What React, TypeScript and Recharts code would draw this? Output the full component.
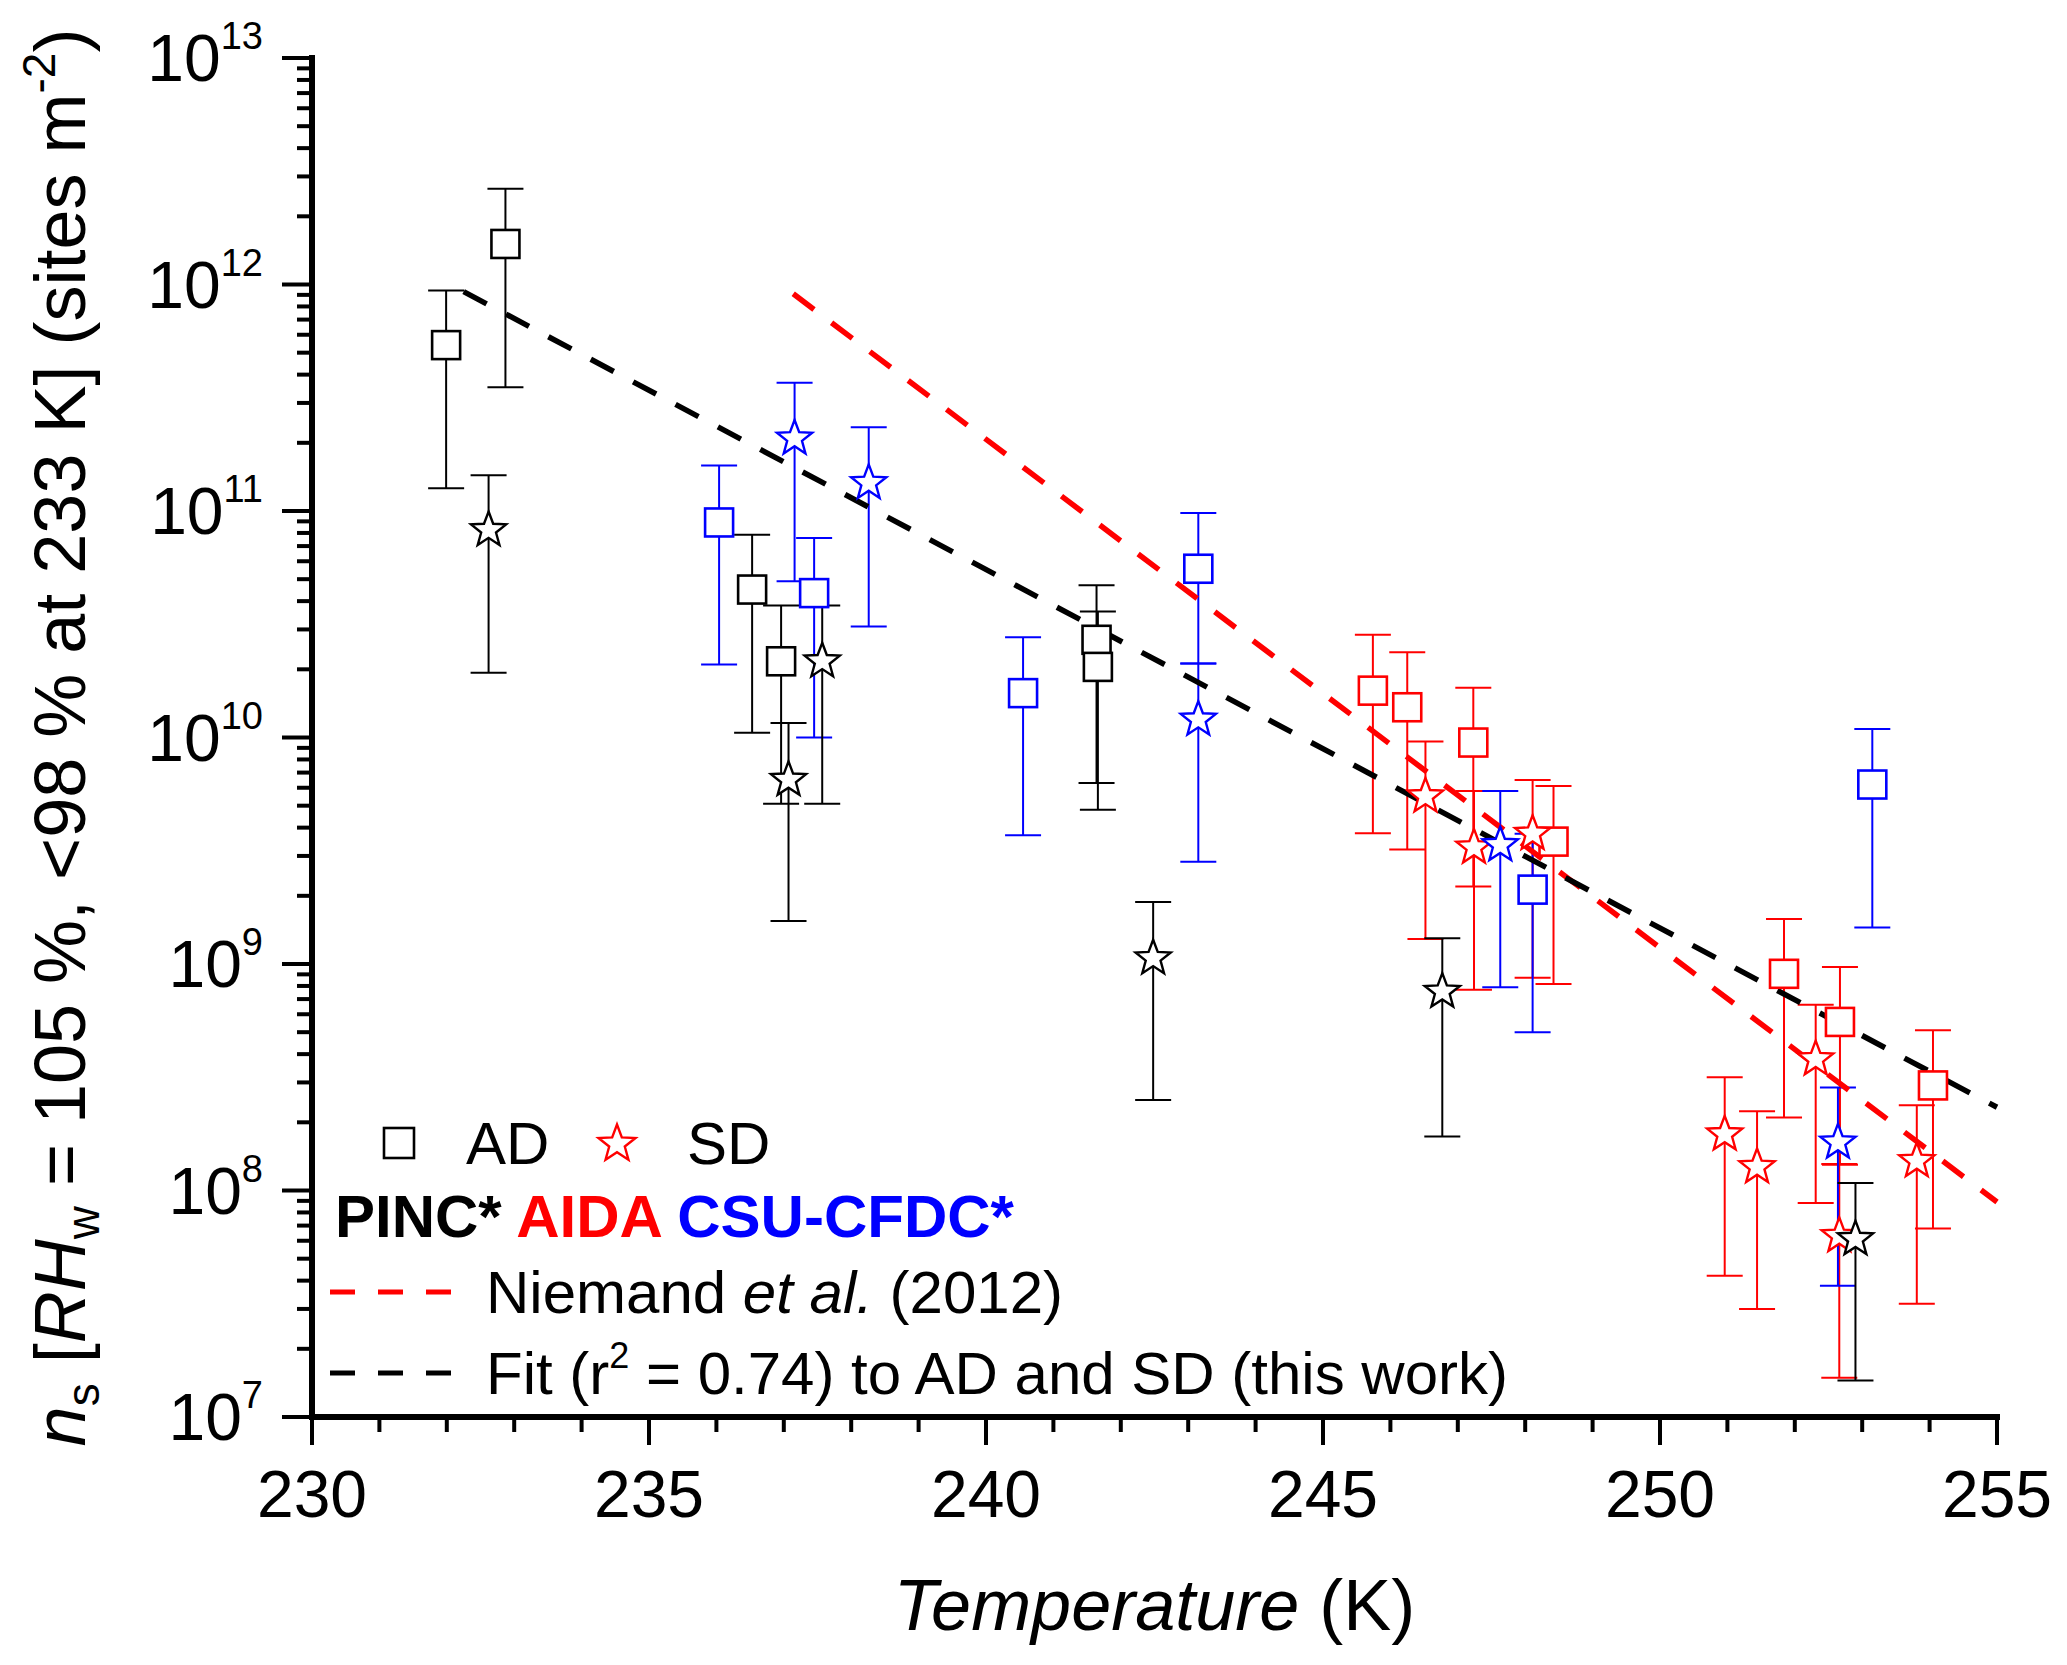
import { ScatterChart, Scatter, XAxis, YAxis, ErrorBar, ReferenceLine } from "recharts";

// ── Fonts & colours ───────────────────────────────────────────────
const FONT = '"Liberation Sans", Arial, Helvetica, sans-serif';
const BLACK = "#000000";
const RED = "#ff0000";
const BLUE = "#0000ff";

// ── Data (T in K, n_s in sites m^-2, error limits lo / hi) ────────
// PINC* (black)
const pincAdT  = [231.99, 232.87, 236.53, 236.96, 241.64, 241.66];
const pincAdN  = [5.4e11, 1.51e12, 4.5e10, 2.17e10, 2.7e10, 2.05e10];
const pincAdLo = [1.26e11, 3.52e11, 1.05e10, 5.1e9, 6.3e9, 4.8e9];
const pincAdHi = [9.4e11, 2.65e12, 7.85e10, 3.83e10, 4.7e10, 3.6e10];

const pincSdT  = [232.62, 237.07, 237.57, 242.48, 246.77, 252.9];
const pincSdN  = [8.24e10, 6.5e9, 2.17e10, 1.06e9, 7.55e8, 6.1e7];
const pincSdLo = [1.93e10, 1.55e9, 5.1e9, 2.51e8, 1.73e8, 1.45e7];
const pincSdHi = [1.44e11, 1.16e10, 3.83e10, 1.88e9, 1.3e9, 1.08e8];

// AIDA (red)
const aidaAdT  = [245.74, 246.25, 247.23, 248.42, 251.84, 252.67, 254.05];
const aidaAdN  = [1.61e10, 1.36e10, 9.5e9, 3.47e9, 9.05e8, 5.55e8, 2.91e8];
const aidaAdLo = [3.78e9, 3.2e9, 2.2e9, 8.15e8, 2.1e8, 1.3e8, 6.8e7];
const aidaAdHi = [2.84e10, 2.38e10, 1.66e10, 6.1e9, 1.58e9, 9.7e8, 5.1e8];

const aidaSdT  = [246.52, 247.24, 248.11, 250.96, 251.44, 252.31, 252.66, 253.81];
const aidaSdN  = [5.5e9, 3.27e9, 3.76e9, 1.77e8, 1.27e8, 3.8e8, 6.3e7, 1.35e8];
const aidaSdLo = [1.29e9, 7.7e8, 8.7e8, 4.2e7, 3.0e7, 8.8e7, 1.49e7, 3.16e7];
const aidaSdHi = [9.6e9, 5.8e9, 6.5e9, 3.16e8, 2.24e8, 6.6e8, 1.31e8, 2.38e8];

// CSU-CFDC* (blue)
const csuAdT  = [236.04, 237.45, 240.55, 243.15, 248.11, 253.15];
const csuAdN  = [8.9e10, 4.34e10, 1.57e10, 5.56e10, 2.13e9, 6.2e9];
const csuAdLo = [2.1e10, 1.0e10, 3.7e9, 2.12e10, 5.0e8, 1.45e9];
const csuAdHi = [1.59e11, 7.6e10, 2.77e10, 9.8e10, 3.76e9, 1.09e10];

const csuSdT  = [237.16, 238.26, 243.15, 247.63, 252.64];
const csuSdN  = [2.09e11, 1.33e11, 1.2e10, 3.35e9, 1.63e8];
const csuSdLo = [4.89e10, 3.09e10, 2.83e9, 7.9e8, 3.8e7];
const csuSdHi = [3.68e11, 2.34e11, 2.12e10, 5.8e9, 2.85e8];

// Dashed lines (end points)
const niemandT = [237.14, 255];
const niemandN = [9.1e11, 8.9e7];
const fitT = [232.25, 255];
const fitN = [9.3e11, 2.33e8];

// ── Axes ──────────────────────────────────────────────────────────
const X_MIN = 230;
const X_MAX = 255;
const xTicks = Array.from({ length: X_MAX - X_MIN + 1 }, (_, i) => X_MIN + i);
const decades = [7, 8, 9, 10, 11, 12];
const yTicks = [
  ...decades.flatMap(d => [1, 2, 3, 4, 5, 6, 7, 8, 9].map(m => m * Math.pow(10, d))),
  1e13,
];

function buildPoints(T: number[], N: number[], lo: number[], hi: number[]) {
  return T.map((t, i) => ({ x: t, y: N[i], err: [N[i] - lo[i], hi[i] - N[i]] }));
}

// ── Marker shapes ─────────────────────────────────────────────────
function starPath(cx: number, cy: number, R: number, r: number) {
  let d = "";
  for (let i = 0; i < 10; i++) {
    const rad = i % 2 === 0 ? R : r;
    const a = -Math.PI / 2 + (i * Math.PI) / 5;
    d += (i === 0 ? "M" : "L") + (cx + rad * Math.cos(a)).toFixed(2) + "," + (cy + rad * Math.sin(a)).toFixed(2);
  }
  return d + "Z";
}

const squareShape = (color: string) => (p: any) => (
  <rect x={p.cx - 14} y={p.cy - 14} width={28} height={28} fill="#fff" stroke={color} strokeWidth={2.6} />
);
const starShape = (color: string) => (p: any) => (
  <path d={starPath(p.cx, p.cy, 18.5, 7.8)} fill="#fff" stroke={color} strokeWidth={2.4} strokeLinejoin="miter" />
);

// ── Ticks ─────────────────────────────────────────────────────────
const XTick = ({ x, y, payload }: any) => {
  const v = payload.value as number;
  const major = v % 5 === 0;
  return (
    <g>
      <line x1={x} x2={x} y1={y} y2={y + (major ? 28 : 15)} stroke={BLACK} strokeWidth={4} />
      {major && (
        <text x={x} y={y + 100} textAnchor="middle" fontFamily={FONT} fontSize={66} fill={BLACK}>
          {v}
        </text>
      )}
    </g>
  );
};

const YTick = ({ x, y, payload }: any) => {
  const v = payload.value as number;
  const e = Math.floor(Math.log10(v) + 1e-6);
  const major = Math.round(v / Math.pow(10, e)) === 1;
  return (
    <g>
      <line x1={x} x2={x - (major ? 30 : 15)} y1={y} y2={y} stroke={BLACK} strokeWidth={4} />
      {major && (
        <text x={x - 49} y={y + 23} textAnchor="end" fontFamily={FONT} fontSize={66} fill={BLACK}>
          10<tspan dy={-32} fontSize={38}>{e}</tspan>
        </text>
      )}
    </g>
  );
};

// ── Axis titles ───────────────────────────────────────────────────
const YTitle = (props: any) => {
  const vb = props.viewBox || { y: 58, height: 1359 };
  const cx = 85;
  const cy = vb.y + vb.height / 2;
  return (
    <text
      x={cx}
      y={cy}
      transform={`rotate(-90, ${cx}, ${cy})`}
      textAnchor="middle"
      fontFamily={FONT}
      fontSize={72}
      fill={BLACK}
    >
      <tspan fontStyle="italic">n</tspan>
      <tspan fontSize={46} dy={14}>s</tspan>
      <tspan dy={-14}> [</tspan>
      <tspan fontStyle="italic">RH</tspan>
      <tspan fontSize={46} dy={14}>w</tspan>
      <tspan dy={-14}> = 105 %, &lt;98 % at 233 K] (sites m</tspan>
      <tspan fontSize={46} dy={-30}>-2</tspan>
      <tspan dy={30}>)</tspan>
    </text>
  );
};

const XTitle = (props: any) => {
  const vb = props.viewBox || { x: 312, width: 1685 };
  const cx = vb.x + vb.width / 2;
  return (
    <text x={cx} y={1630} textAnchor="middle" fontFamily={FONT} fontSize={72} fill={BLACK}>
      <tspan fontStyle="italic">Temperature</tspan> (K)
    </text>
  );
};

// ── Legend (drawn over the plot, lower left) ──────────────────────
const PlotLegend = () => (
  <svg
    width={2067}
    height={1665}
    style={{ position: "absolute", left: 0, top: 0, pointerEvents: "none" }}
  >
    <rect x={384} y={1128} width={30} height={30} fill="#fff" stroke={BLACK} strokeWidth={2.6} />
    <text x={466} y={1164} fontFamily={FONT} fontSize={60} fill={BLACK}>AD</text>
    <path d={starPath(617, 1144, 19.5, 8.2)} fill="#fff" stroke={RED} strokeWidth={2.4} />
    <text x={687} y={1164} fontFamily={FONT} fontSize={60} fill={BLACK}>SD</text>

    <text x={335} y={1237} fontFamily={FONT} fontSize={60} fontWeight="bold">
      <tspan fill={BLACK}>PINC* </tspan>
      <tspan fill={RED}>AIDA </tspan>
      <tspan fill={BLUE}>CSU-CFDC*</tspan>
    </text>

    <line x1={330} x2={455} y1={1292} y2={1292} stroke={RED} strokeWidth={5} strokeDasharray="25 23" />
    <text x={486} y={1313} fontFamily={FONT} fontSize={60} fill={BLACK}>
      Niemand <tspan fontStyle="italic">et al.</tspan> (2012)
    </text>

    <line x1={330} x2={455} y1={1373} y2={1373} stroke={BLACK} strokeWidth={5} strokeDasharray="25 23" />
    <text x={486} y={1394} fontFamily={FONT} fontSize={60} fill={BLACK}>
      Fit (r<tspan fontSize={36} dy={-26}>2</tspan><tspan dy={26}> = 0.74) to AD and SD (this work)</tspan>
    </text>
  </svg>
);

// ── Series config ─────────────────────────────────────────────────
const series = [
  { name: "AIDA AD", data: buildPoints(aidaAdT, aidaAdN, aidaAdLo, aidaAdHi), color: RED, shape: squareShape(RED) },
  { name: "AIDA SD", data: buildPoints(aidaSdT, aidaSdN, aidaSdLo, aidaSdHi), color: RED, shape: starShape(RED) },
  { name: "CSU AD", data: buildPoints(csuAdT, csuAdN, csuAdLo, csuAdHi), color: BLUE, shape: squareShape(BLUE) },
  { name: "CSU SD", data: buildPoints(csuSdT, csuSdN, csuSdLo, csuSdHi), color: BLUE, shape: starShape(BLUE) },
  { name: "PINC AD", data: buildPoints(pincAdT, pincAdN, pincAdLo, pincAdHi), color: BLACK, shape: squareShape(BLACK) },
  { name: "PINC SD", data: buildPoints(pincSdT, pincSdN, pincSdLo, pincSdHi), color: BLACK, shape: starShape(BLACK) },
];

export default function App() {
  return (
    <div style={{ position: "absolute", left: 0, top: 0, width: 2067, height: 1665, background: "#fff" }}>
      <ScatterChart width={2067} height={1665} margin={{ top: 58, right: 70, bottom: 0, left: 0 }}>
        <XAxis
          type="number"
          dataKey="x"
          domain={[X_MIN, X_MAX]}
          allowDataOverflow
          ticks={xTicks}
          interval={0}
          height={248}
          tickSize={0}
          tickMargin={0}
          tickLine={false}
          axisLine={{ stroke: BLACK, strokeWidth: 6, strokeLinecap: "square" }}
          tick={<XTick />}
          label={XTitle}
        />
        <YAxis
          type="number"
          dataKey="y"
          scale="log"
          domain={[1e7, 1e13]}
          allowDataOverflow
          ticks={yTicks}
          interval={0}
          width={312}
          tickSize={0}
          tickMargin={0}
          tickLine={false}
          axisLine={{ stroke: BLACK, strokeWidth: 6, strokeLinecap: "square" }}
          tick={<YTick />}
          label={YTitle}
        />

        {series.map(s => (
          <Scatter key={s.name} name={s.name} data={s.data} shape={s.shape} isAnimationActive={false}>
            <ErrorBar dataKey="err" direction="y" width={18} stroke={s.color} strokeWidth={2} isAnimationActive={false} />
          </Scatter>
        ))}

        <ReferenceLine
          segment={[{ x: niemandT[0], y: niemandN[0] }, { x: niemandT[1], y: niemandN[1] }]}
          stroke={RED}
          strokeWidth={5.5}
          strokeDasharray="26 22"
          ifOverflow="visible"
        />
        <ReferenceLine
          segment={[{ x: fitT[0], y: fitN[0] }, { x: fitT[1], y: fitN[1] }]}
          stroke={BLACK}
          strokeWidth={5.5}
          strokeDasharray="26 22"
          ifOverflow="visible"
        />
      </ScatterChart>
      <PlotLegend />
    </div>
  );
}
